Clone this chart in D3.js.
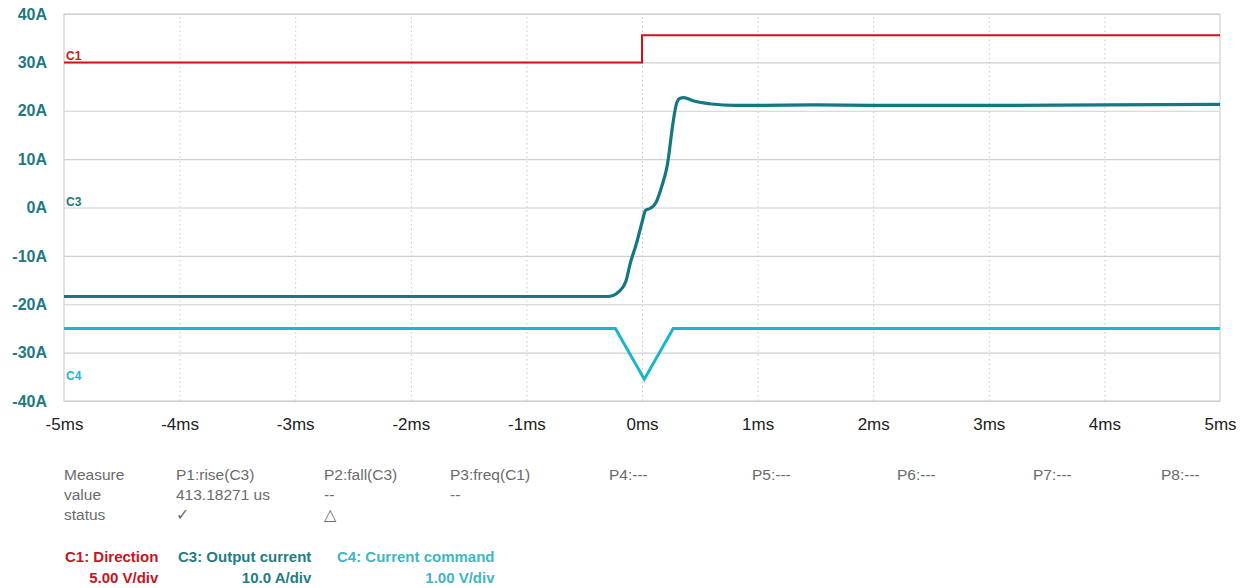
<!DOCTYPE html>
<html>
<head>
<meta charset="utf-8">
<script src="https://cdn.jsdelivr.net/npm/d3@7"></script>
<style>
  html, body { margin: 0; padding: 0; background: #fff; }
  svg { display: block; font-family: "Liberation Sans", Arial, sans-serif; }
</style>
</head>
<body>
<div id="chart"></div>
<script>
/* time axis (ms) and current axis (A) ticks */
const timeTicks = [-5, -4, -3, -2, -1, 0, 1, 2, 3, 4, 5];
const currentTicks = [-40, -30, -20, -10, 0, 10, 20, 30, 40];

/* C1: Direction */
const c1Time = [-5, 0, 0, 5];
const c1Value = [30, 30, 35.6, 35.6];

/* C3: Output current */
const c3Time = [-5, -0.5, -0.3, -0.25, -0.2, -0.14, -0.1, -0.05, 0, 0.03, 0.07, 0.12, 0.17, 0.22, 0.27, 0.3, 0.33, 0.36, 0.45, 0.6, 0.8, 1, 1.5, 2, 3, 4, 5];
const c3Value = [-18.4, -18.4, -18.4, -18.2, -17.4, -15.3, -11.4, -7.6, -3.1, -0.6, -0.2, 1.0, 4.3, 8.9, 17.8, 21.6, 22.6, 22.7, 22.0, 21.4, 21.1, 21.1, 21.2, 21.1, 21.1, 21.2, 21.3];

/* C4: Current command */
const c4Time = [-5, -0.23, 0.02, 0.27, 5];
const c4Value = [-25, -25, -35.5, -25, -25];

/* channel markers */
const channelNames = ["C1", "C3", "C4"];
const channelLevels = [30, 0, -36];
const channelColors = ["#cc1a1f", "#177a80", "#1eb7cc"];

/* measurement table */
const measureHeaders = ["Measure", "P1:rise(C3)", "P2:fall(C3)", "P3:freq(C1)", "P4:---", "P5:---", "P6:---", "P7:---", "P8:---"];
const measureValues = ["value", "413.18271 us", "--", "--"];
const measureStatus = ["status", "\u2713", "\u25B3"];

/* channel legend */
const legendNames = ["C1: Direction", "C3: Output current", "C4: Current command"];
const legendScales = ["5.00 V/div", "10.0 A/div", "1.00 V/div"];
const legendColors = ["#c8141e", "#237d82", "#3fb6c6"];

//---------------------------------
/* layout */
const w = 1247;
const h = 588;
const plot = { left: 64, right: 1220, top: 14, bottom: 401 };
const colX = [64, 176, 324, 450, 609, 752, 897, 1033, 1161];
const legendX = [65, 178, 337];

const svg = d3.select("#chart")
  .append("svg")
  .attr("width", w)
  .attr("height", h);

const xScale = d3.scaleLinear()
  .domain([-5, 5])
  .range([plot.left, plot.right]);

const yScale = d3.scaleLinear()
  .domain([-40, 40])
  .range([plot.bottom, plot.top]);

//---------------------------------
/* grid */
const yGrid = d3.axisLeft(yScale)
  .tickValues(currentTicks)
  .tickSize(-(plot.right - plot.left))
  .tickFormat("");
svg.append("g")
  .attr("transform", `translate(${plot.left},0)`)
  .call(yGrid)
  .call(g => g.select(".domain").remove())
  .call(g => g.selectAll("line").attr("stroke", "#cfcfcf").attr("stroke-width", 1.2));

const xGrid = d3.axisBottom(xScale)
  .tickValues(timeTicks.slice(1, -1))
  .tickSize(-(plot.bottom - plot.top))
  .tickFormat("");
svg.append("g")
  .attr("transform", `translate(0,${plot.bottom})`)
  .call(xGrid)
  .call(g => g.select(".domain").remove())
  .call(g => g.selectAll("line")
    .attr("stroke", "#c8c8c8")
    .attr("stroke-width", 1)
    .attr("stroke-dasharray", "1.5,3"));

/* frame */
svg.append("rect")
  .attr("x", plot.left)
  .attr("y", plot.top)
  .attr("width", plot.right - plot.left)
  .attr("height", plot.bottom - plot.top)
  .attr("fill", "none")
  .attr("stroke", "#cfcfcf")
  .attr("stroke-width", 1.2);

//---------------------------------
/* axis labels */
const yAxis = d3.axisLeft(yScale)
  .tickValues(currentTicks)
  .tickSize(0)
  .tickPadding(17)
  .tickFormat(d => d + "A");
svg.append("g")
  .attr("transform", `translate(${plot.left},0)`)
  .call(yAxis)
  .call(g => g.select(".domain").remove())
  .call(g => g.selectAll("text")
    .attr("fill", "#1e7a80")
    .attr("font-size", 16)
    .attr("font-weight", "bold")
    .attr("font-family", "Liberation Sans, Arial, sans-serif"));

const xAxis = d3.axisBottom(xScale)
  .tickValues(timeTicks)
  .tickSize(0)
  .tickPadding(17)
  .tickFormat(d => d + "ms");
svg.append("g")
  .attr("transform", `translate(0,${plot.bottom})`)
  .call(xAxis)
  .call(g => g.select(".domain").remove())
  .call(g => g.selectAll("text")
    .attr("fill", "#222")
    .attr("font-size", 17)
    .attr("font-family", "Liberation Sans, Arial, sans-serif"));

//---------------------------------
/* traces */
const line = d3.line()
  .x(d => xScale(d[0]))
  .y(d => yScale(d[1]));

svg.append("path")
  .datum(d3.zip(c1Time, c1Value))
  .attr("fill", "none")
  .attr("stroke", "#d0121b")
  .attr("stroke-width", 2)
  .attr("d", line);

svg.append("path")
  .datum(d3.zip(c4Time, c4Value))
  .attr("fill", "none")
  .attr("stroke", "#1ab6cc")
  .attr("stroke-width", 3)
  .attr("d", line);

svg.append("path")
  .datum(d3.zip(c3Time, c3Value))
  .attr("fill", "none")
  .attr("stroke", "#147880")
  .attr("stroke-width", 3.2)
  .attr("d", line.curve(d3.curveMonotoneX));

/* channel markers */
svg.append("g")
  .selectAll("text")
  .data(channelNames)
  .join("text")
  .attr("x", plot.left + 2)
  .attr("y", (d, i) => yScale(channelLevels[i]) - 2)
  .attr("fill", (d, i) => channelColors[i])
  .attr("font-size", 12)
  .attr("font-weight", "bold")
  .text(d => d);

//---------------------------------
/* measurement table */
const table = svg.append("g")
  .attr("font-size", 15.5)
  .attr("fill", "#6b6b6b");

[measureHeaders, measureValues, measureStatus].forEach(function(row, r) {
  table.selectAll(".row" + r)
    .data(row)
    .join("text")
    .attr("class", "row" + r)
    .attr("x", (d, i) => colX[i])
    .attr("y", 480 + r * 20)
    .text(d => d);
});

/* channel legend */
const legend = svg.append("g")
  .attr("font-size", 15)
  .attr("font-weight", "bold");

legendNames.forEach(function(name, i) {
  const t = legend.append("text")
    .attr("x", legendX[i])
    .attr("y", 562)
    .attr("fill", legendColors[i])
    .text(name);
  const wText = t.node().getComputedTextLength();
  legend.append("text")
    .attr("x", legendX[i] + wText)
    .attr("y", 583)
    .attr("text-anchor", "end")
    .attr("fill", legendColors[i])
    .text(legendScales[i]);
});
</script>
</body>
</html>
